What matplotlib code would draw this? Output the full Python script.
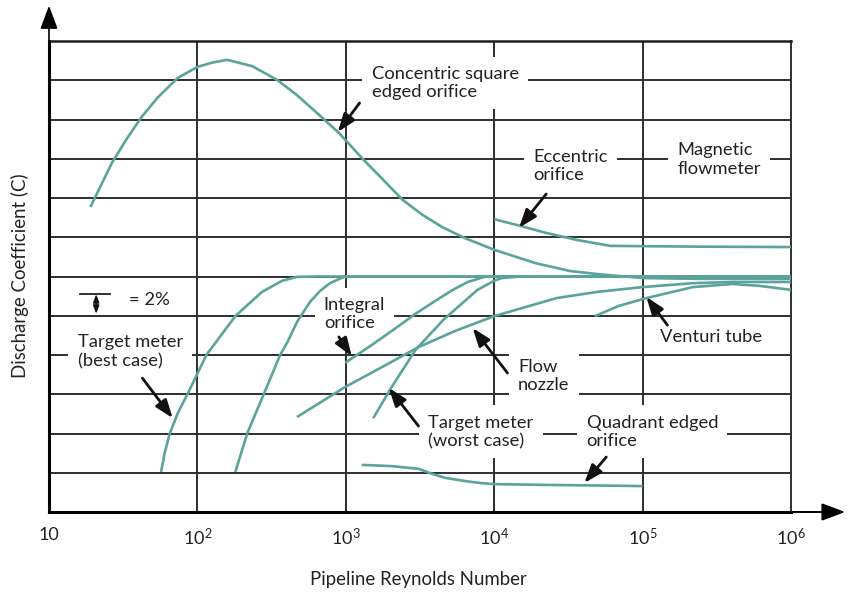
import matplotlib
matplotlib.use("Agg")
import matplotlib.pyplot as plt

plt.rcParams['font.family'] = ['Lato', 'DejaVu Sans']
plt.rcParams['mathtext.default'] = 'regular'

# Reynolds number (x) and discharge coefficient in grid divisions (1 div = 2%)
concentric_re = [19, 21.8, 26.5, 33.3, 42, 54.3, 73.8, 100, 126, 159, 234, 344, 469, 638, 898,
                 1320, 1790, 2420, 3290, 4460, 6330, 10000, 19000, 32400, 50000, 100000,
                 243000, 1000000]
concentric_c = [7.77, 8.23, 8.89, 9.50, 10.06, 10.57, 11.06, 11.34, 11.45, 11.52, 11.36, 11.01,
                10.62, 10.17, 9.66, 8.97, 8.46, 7.95, 7.57, 7.26, 6.98, 6.68, 6.34, 6.14, 6.06,
                5.96, 5.94, 5.94]

eccentric_re = [10000, 15000, 22400, 36200, 60700, 243000, 1000000]
eccentric_c = [7.46, 7.29, 7.11, 6.93, 6.78, 6.76, 6.75]

target_best_re = [56.9, 60.4, 65.3, 73.8, 85.9, 115, 180, 273, 372, 469, 638, 1000000]
target_best_c = [1.02, 1.53, 2.01, 2.52, 3.01, 4.0, 4.99, 5.61, 5.89, 5.99, 6.0, 6.0]

second_re = [180, 217, 282, 361, 402, 469, 573, 670, 782, 970, 1280, 1000000]
second_c = [1.02, 2.01, 3.03, 4.0, 4.31, 4.84, 5.35, 5.63, 5.83, 5.99, 6.0, 6.0]

integral_re = [990, 1490, 2180, 2950, 4010, 5270, 6630, 8590, 11700, 1000000]
integral_c = [3.80, 4.25, 4.69, 5.05, 5.38, 5.66, 5.86, 5.99, 6.0, 6.0]

target_worst_re = [1530, 2020, 2950, 4530, 7710, 10000, 11200, 15000, 1000000]
target_worst_c = [2.39, 3.16, 4.13, 4.89, 5.66, 5.89, 5.96, 6.0, 6.0]

nozzle_re = [469, 985, 1870, 3090, 5430, 10000, 26300, 50000, 100000, 218000, 405000, 1000000]
nozzle_c = [2.42, 3.18, 3.75, 4.20, 4.61, 4.99, 5.45, 5.61, 5.73, 5.83, 5.86, 5.86]

venturi_re = [47700, 69000, 106000, 218000, 405000, 618000, 1000000]
venturi_c = [4.99, 5.25, 5.45, 5.73, 5.81, 5.76, 5.66]

quadrant_re = [1280, 2020, 3090, 3830, 4670, 6330, 7960, 10000, 22400, 50000, 100000]
quadrant_c = [1.20, 1.17, 1.10, 0.97, 0.87, 0.79, 0.74, 0.71, 0.69, 0.675, 0.66]

xticks = [10, 100, 1000, 10000, 100000, 1000000]
xtick_labels = ['10', '$10^{2}$', '$10^{3}$', '$10^{4}$', '$10^{5}$', '$10^{6}$']

# label text, text position, arrow tail, arrow head (data coords)
labels = [
    ('Concentric square\nedged orifice', (1490, 10.93), (1238, 10.42), (883, 9.68)),
    ('Eccentric\norifice', (18400, 8.82), (22400, 8.10), (14700, 7.24)),
    ('Magnetic\nflowmeter', (172000, 8.98), None, None),
    ('Target meter\n(best case)', (15.6, 4.08), (42.6, 3.41), (68.2, 2.39)),
    ('Integral\norifice', (711, 5.04), (898, 4.46), (1096, 3.97)),
    ('Flow\nnozzle', (14500, 3.46), (12300, 3.54), (7150, 4.69)),
    ('Target meter\n(worst case)', (3600, 2.04), (3090, 2.19), (1950, 3.16)),
    ('Quadrant edged\norifice', (41900, 2.04), (56900, 1.40), (40500, 0.74)),
]

teal = '#5ba39b'
grid_col = '#2e2e2e'
txt_col = '#222222'
fs = 13.2

fig = plt.figure(figsize=(8.5, 5.94), dpi=100)
ax = fig.add_axes([49 / 850, 82 / 594, 742 / 850, 471 / 594])
ax.set_xscale('log')
ax.set_xlim(10, 1e6)
ax.set_ylim(0, 12)

# grid
for y in range(1, 12):
    ax.axhline(y, color=grid_col, lw=1.4, zorder=1)
for x in xticks[1:-1]:
    ax.axvline(x, color=grid_col, lw=1.4, zorder=1)

for sp in ['left', 'bottom']:
    ax.spines[sp].set_linewidth(2.2)
    ax.spines[sp].set_color('black')
ax.spines['top'].set_linewidth(1.8)
ax.spines['top'].set_color('#1e1e1e')
ax.spines['right'].set_linewidth(1.4)
ax.spines['right'].set_color(grid_col)

# curves
curves = [(concentric_re, concentric_c), (eccentric_re, eccentric_c),
          (target_best_re, target_best_c), (second_re, second_c),
          (integral_re, integral_c), (target_worst_re, target_worst_c),
          (nozzle_re, nozzle_c), (venturi_re, venturi_c),
          (quadrant_re, quadrant_c)]
for xs, ys in curves:
    ax.plot(xs, ys, color=teal, lw=1.9, zorder=3, solid_capstyle='butt',
            solid_joinstyle='round')

arrow_kw = dict(arrowstyle='-|>,head_length=0.55,head_width=0.2', color='#111111',
                lw=2, mutation_scale=20, shrinkA=0, shrinkB=0)

for text, pos, tail, head in labels:
    ax.text(pos[0], pos[1], text, ha='left', va='center', fontsize=fs,
            linespacing=1.2, color=txt_col, zorder=2,
            bbox=dict(boxstyle='square,pad=0.5', fc='white', ec='none'))
    if tail is not None:
        ax.annotate('', xy=head, xytext=tail, arrowprops=arrow_kw, zorder=4)

# venturi label (no box)
ax.text(132000, 4.46, 'Venturi tube', ha='left', va='center', fontsize=fs,
        color=txt_col, zorder=2)
ax.annotate('', xy=(106000, 5.48), xytext=(147000, 4.76), arrowprops=arrow_kw, zorder=4)

# 2% scale marker
ax.plot([16.3, 25.7], [5.55, 5.55], color='#222222', lw=1.3, zorder=3)
ax.annotate('', xy=(20.8, 5.55), xytext=(20.8, 5.05),
            arrowprops=dict(arrowstyle='<|-|>,head_length=0.4,head_width=0.15',
                            color='#111111', lw=1.1, mutation_scale=12,
                            shrinkA=0, shrinkB=0), zorder=4)
ax.text(34.4, 5.40, '= 2%', ha='left', va='center', fontsize=fs, color=txt_col)

# ticks
ax.set_xticks(xticks)
ax.set_xticklabels(xtick_labels, fontsize=13, color=txt_col)
ax.minorticks_off()
ax.set_yticks([])
ax.tick_params(axis='x', length=0, pad=11)

# axis arrows
ax.annotate('', xy=(0, 1.075), xytext=(0, 0.99), xycoords='axes fraction',
            arrowprops=dict(arrowstyle='-|>,head_length=0.8,head_width=0.3', color='black',
                            lw=1.2, mutation_scale=18, shrinkA=0, shrinkB=0),
            annotation_clip=False)
ax.annotate('', xy=(1.073, 0), xytext=(0.99, 0), xycoords='axes fraction',
            arrowprops=dict(arrowstyle='-|>,head_length=0.8,head_width=0.3', color='black',
                            lw=1.4, mutation_scale=18, shrinkA=0, shrinkB=0),
            annotation_clip=False)

fig.text(418 / 850, 1 - 580 / 594, 'Pipeline Reynolds Number', ha='center', va='center',
         fontsize=13.4, color=txt_col)
fig.text(20 / 850, 1 - 276 / 594, 'Discharge Coefficient (C)', ha='center', va='center',
         rotation=90, fontsize=13.4, color=txt_col)

fig.savefig('out.png', dpi=100)
